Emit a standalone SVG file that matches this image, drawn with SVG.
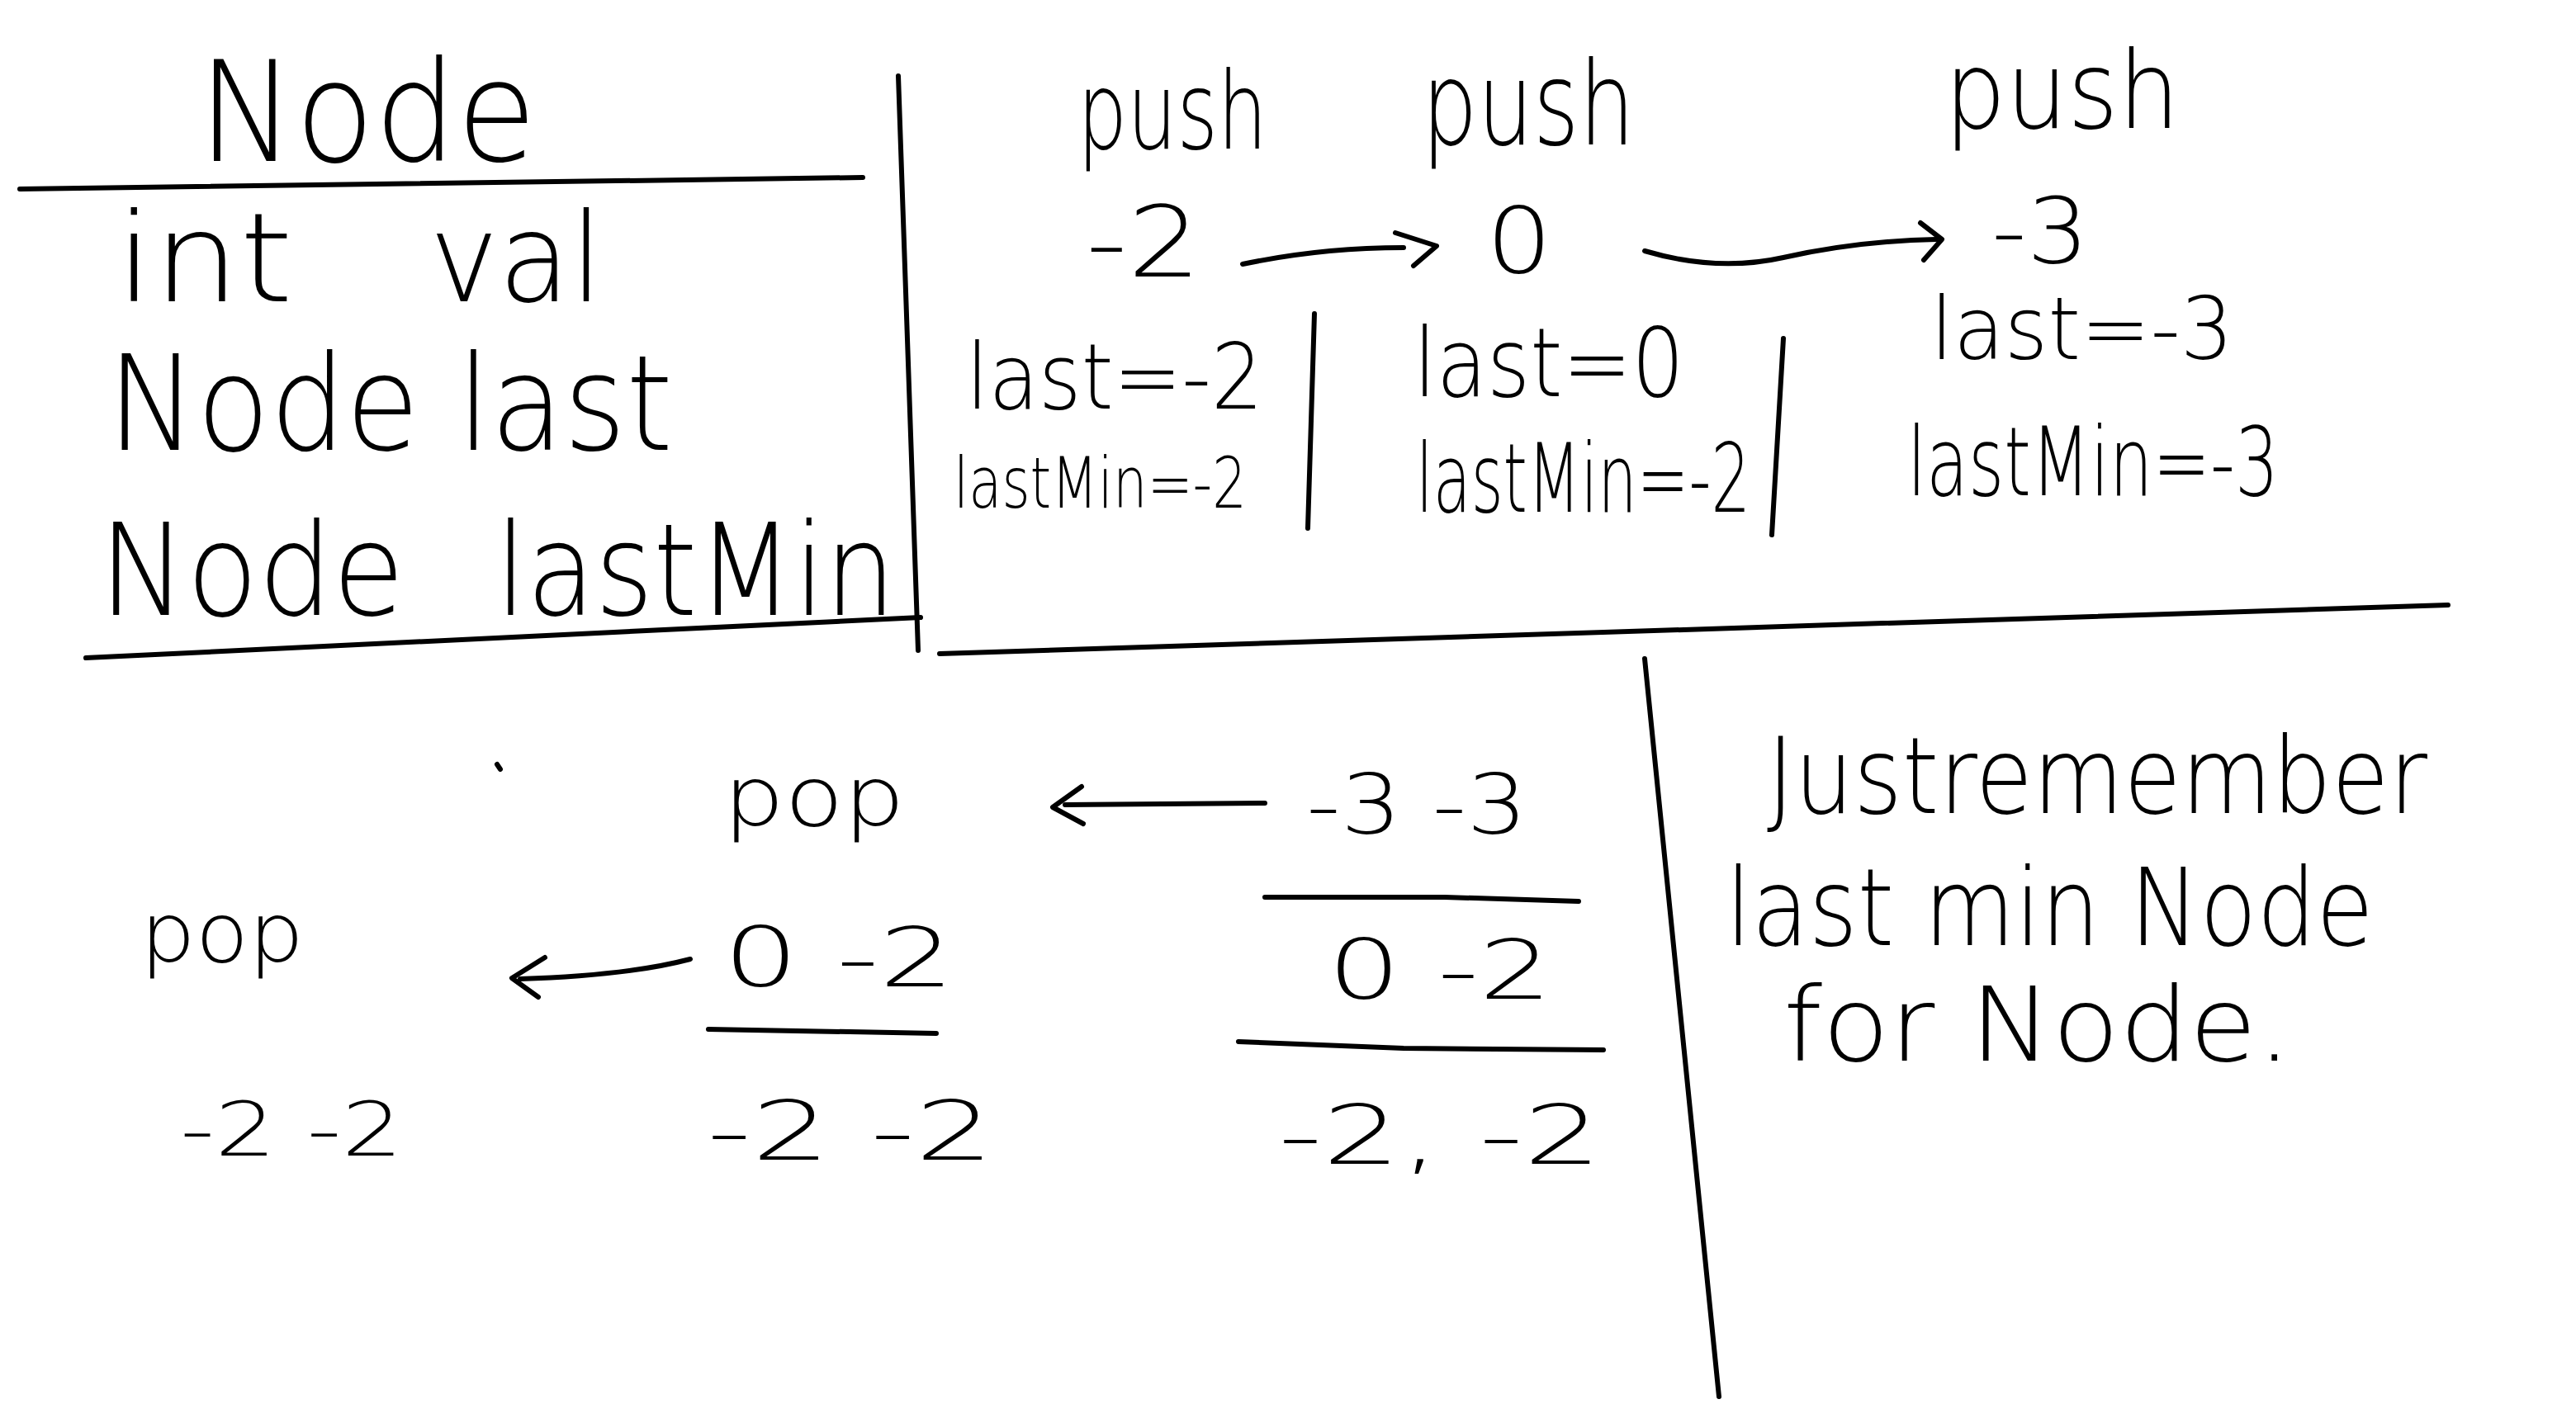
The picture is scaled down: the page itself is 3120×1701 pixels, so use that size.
<svg xmlns="http://www.w3.org/2000/svg" width="3120" height="1701" viewBox="0 0 3120 1701">
<style>
.t{font-family:"DejaVu Sans","Liberation Sans",sans-serif;font-weight:200;fill:#000}
.ln{stroke:#000;stroke-width:6;fill:none;stroke-linecap:round;stroke-linejoin:round}
</style>
<rect width="3120" height="1701" fill="#fff"/>
<g id="lines">
<path class="ln" d="M24,229 L1045,215"/>
<path class="ln" d="M1088,92 L1112,788"/>
<path class="ln" d="M104,797 L1115,748"/>
<path class="ln" d="M1138,792 L2965,733"/>
<path class="ln" d="M1592,380 L1584,640"/>
<path class="ln" d="M2160,410 L2146,648"/>
<path class="ln" d="M1992,798 L2082,1692"/>
<path class="ln" d="M1532,1087 L1750,1087 L1912,1092"/>
<path class="ln" d="M858,1247 L1134,1252"/>
<path class="ln" d="M1500,1262 L1700,1270 L1942,1272"/>
<path class="ln" d="M602,926 L606,932"/>
</g>
<g id="connectors">
<path class="ln" d="M1505,320 Q1600,300 1700,300"/>
<path class="ln" d="M1690,282 L1740,298 L1712,322"/>
<path class="ln" d="M1992,304 Q2080,330 2160,312 Q2250,292 2345,290"/>
<path class="ln" d="M2326,270 L2352,290 L2330,315"/>
<path class="ln" d="M1532,973 L1290,975"/>
<path class="ln" d="M1310,953 L1275,978 L1312,998"/>
<path class="ln" d="M836,1162 Q760,1182 630,1186"/>
<path class="ln" d="M660,1160 L620,1185 L652,1208"/>
</g>
<g id="node-def">
<text class="t" x="240" y="195" font-size="170" textLength="410" lengthAdjust="spacingAndGlyphs">Node</text>
<text class="t" font-size="150" y="365"><tspan x="140" textLength="215" lengthAdjust="spacingAndGlyphs">int</tspan><tspan x="520" textLength="210" lengthAdjust="spacingAndGlyphs">val</tspan></text>
<text class="t" x="130" y="545" font-size="160" textLength="685" lengthAdjust="spacingAndGlyphs">Node last</text>
<text class="t" font-size="155" y="745"><tspan x="120" textLength="370" lengthAdjust="spacingAndGlyphs">Node</tspan><tspan x="600" textLength="485" lengthAdjust="spacingAndGlyphs">lastMin</tspan></text>
</g>
<g id="push1">
<text class="t" x="1305" y="180" font-size="130" textLength="230" lengthAdjust="spacingAndGlyphs">push</text>
<text class="t" x="1315" y="335" font-size="120" textLength="140" lengthAdjust="spacingAndGlyphs">-2</text>
<text class="t" x="1170" y="495" font-size="110" textLength="360" lengthAdjust="spacingAndGlyphs">last=-2</text>
<text class="t" x="1155" y="615" font-size="85" textLength="355" lengthAdjust="spacingAndGlyphs">lastMin=-2</text>
</g>
<g id="push2">
<text class="t" x="1722" y="175" font-size="140" textLength="258" lengthAdjust="spacingAndGlyphs">push</text>
<text class="t" x="1800" y="330" font-size="110" textLength="80" lengthAdjust="spacingAndGlyphs">0</text>
<text class="t" x="1712" y="480" font-size="115" textLength="328" lengthAdjust="spacingAndGlyphs">last=0</text>
<text class="t" x="1715" y="620" font-size="115" textLength="405" lengthAdjust="spacingAndGlyphs">lastMin=-2</text>
</g>
<g id="push3">
<text class="t" x="2355" y="155" font-size="130" textLength="285" lengthAdjust="spacingAndGlyphs">push</text>
<text class="t" x="2412" y="318" font-size="110" textLength="118" lengthAdjust="spacingAndGlyphs">-3</text>
<text class="t" x="2338" y="435" font-size="105" textLength="367" lengthAdjust="spacingAndGlyphs">last=-3</text>
<text class="t" x="2310" y="600" font-size="115" textLength="450" lengthAdjust="spacingAndGlyphs">lastMin=-3</text>
</g>
<g id="pop1">
<text class="t" x="876" y="1000" font-size="100" textLength="220" lengthAdjust="spacingAndGlyphs">pop</text>
<text class="t" x="1582" y="1010" font-size="100" textLength="268" lengthAdjust="spacingAndGlyphs">-3 -3</text>
<text class="t" x="1608" y="1210" font-size="100" textLength="272" lengthAdjust="spacingAndGlyphs">0 -2</text>
<text class="t" x="1548" y="1410" font-size="100" textLength="392" lengthAdjust="spacingAndGlyphs">-2, -2</text>
</g>
<g id="pop2">
<text class="t" x="170" y="1165" font-size="100" textLength="198" lengthAdjust="spacingAndGlyphs">pop</text>
<text class="t" x="876" y="1195" font-size="100" textLength="280" lengthAdjust="spacingAndGlyphs">0 -2</text>
<text class="t" x="856" y="1405" font-size="100" textLength="348" lengthAdjust="spacingAndGlyphs">-2  -2</text>
</g>
<g id="pop3">
<text class="t" x="218" y="1400" font-size="90" textLength="270" lengthAdjust="spacingAndGlyphs">-2 -2</text>
</g>
<g id="note">
<text class="t" x="2140" y="985" font-size="128" textLength="800" lengthAdjust="spacingAndGlyphs">Justremember</text>
<text class="t" x="2090" y="1145" font-size="130" textLength="785" lengthAdjust="spacingAndGlyphs">last min Node</text>
<text class="t" x="2160" y="1285" font-size="125" textLength="616" lengthAdjust="spacingAndGlyphs">for Node.</text>
</g>
</svg>
